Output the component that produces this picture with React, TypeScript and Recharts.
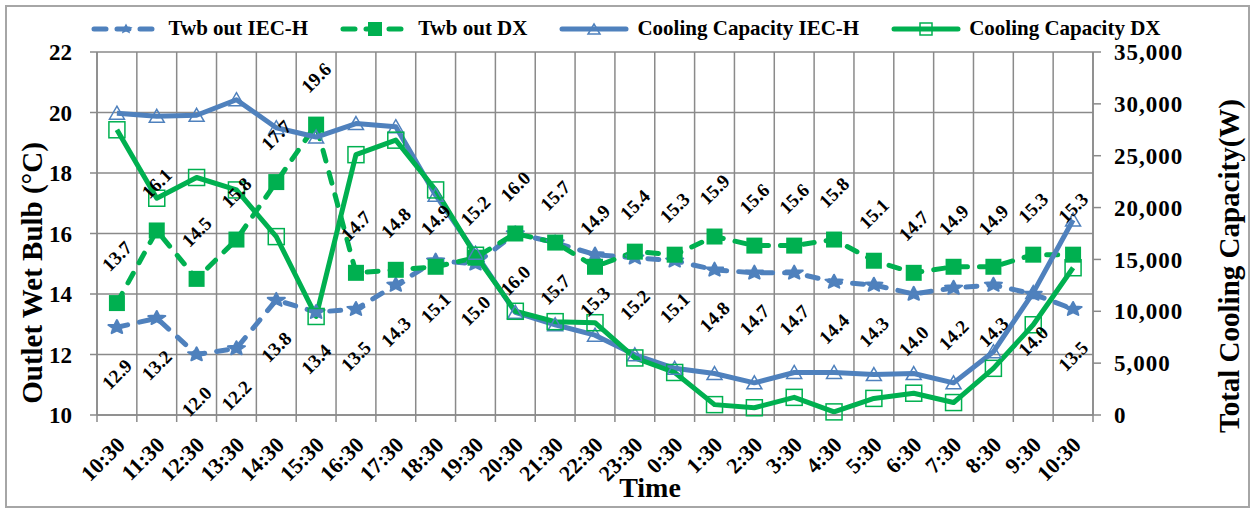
import React from 'react';
import { LineChart, Line, XAxis, YAxis, CartesianGrid, Legend, LabelList } from 'recharts';

const times = [
  '10:30', '11:30', '12:30', '13:30', '14:30', '15:30', '16:30', '17:30', '18:30', '19:30',
  '20:30', '21:30', '22:30', '23:30', '0:30', '1:30', '2:30', '3:30', '4:30', '5:30',
  '6:30', '7:30', '8:30', '9:30', '10:30',
];
const twbIec = [12.9, 13.2, 12.0, 12.2, 13.8, 13.4, 13.5, 14.3, 15.1, 15.0, 16.0, 15.7, 15.3, 15.2, 15.1, 14.8, 14.7, 14.7, 14.4, 14.3, 14.0, 14.2, 14.3, 14.0, 13.5];
const twbDx = [13.7, 16.1, 14.5, 15.8, 17.7, 19.6, 14.7, 14.8, 14.9, 15.2, 16.0, 15.7, 14.9, 15.4, 15.3, 15.9, 15.6, 15.6, 15.8, 15.1, 14.7, 14.9, 14.9, 15.3, 15.3];
const capIec = [29100, 28800, 28900, 30400, 27700, 26800, 28100, 27800, 21200, 15600, 9900, 8700, 7700, 5800, 4500, 4000, 3100, 4100, 4100, 3900, 4000, 3100, 6100, 11800, 18800];
const capDx = [27500, 20900, 22900, 21700, 17200, 9500, 25100, 26500, 21700, 15400, 10000, 9000, 8900, 5500, 4100, 1000, 700, 1700, 300, 1600, 2100, 1200, 4500, 8700, 14200];
const leftTicks = [10, 12, 14, 16, 18, 20, 22];
const rightTicks = [0, 5000, 10000, 15000, 20000, 25000, 30000, 35000];

const data = times.map((time, i) => ({
  time,
  twbIec: twbIec[i],
  twbDx: twbDx[i],
  capIec: capIec[i],
  capDx: capDx[i],
}));

const BLUE = '#4f81bd';
const GREEN = '#00b050';
const GRID = '#8a8a8a';
const FONT = '"Liberation Serif", "Times New Roman", serif';
const W = 1251;
const H = 508;
const PLOT_W = W - 97 - 158;
const BAND = PLOT_W / times.length;
const DASH = '11 12';

const starPoints = (cx: number, cy: number, r: number) => {
  const pts: string[] = [];
  for (let i = 0; i < 10; i++) {
    const rr = i % 2 === 0 ? r : r * 0.45;
    const a = -Math.PI / 2 + (i * Math.PI) / 5;
    pts.push(`${cx + rr * Math.cos(a)},${cy + rr * Math.sin(a) * 0.8}`);
  }
  return pts.join(' ');
};

const StarDot = (props: any) => {
  const { cx, cy } = props;
  if (cx == null || cy == null) return null;
  return <polygon points={starPoints(cx, cy, 9)} fill={BLUE} stroke={BLUE} strokeWidth={2} strokeLinejoin="round" />;
};

const SquareDot = (props: any) => {
  const { cx, cy } = props;
  if (cx == null || cy == null) return null;
  return <rect x={cx - 8} y={cy - 8} width={16} height={16} fill={GREEN} />;
};

const TriDot = (props: any) => {
  const { cx, cy } = props;
  if (cx == null || cy == null) return null;
  return (
    <polygon
      points={`${cx},${cy - 7} ${cx + 7.5},${cy + 6} ${cx - 7.5},${cy + 6}`}
      fill="none"
      stroke={BLUE}
      strokeWidth={1.5}
    />
  );
};

const OpenSquareDot = (props: any) => {
  const { cx, cy } = props;
  if (cx == null || cy == null) return null;
  return <rect x={cx - 8} y={cy - 8} width={16} height={16} fill="none" stroke={GREEN} strokeWidth={1.5} />;
};

// rotated value labels, above or below the point
const makeLabel = (dy: number) => (props: any) => {
  const { x, y, value } = props;
  if (x == null || y == null) return null;
  const cx = x;
  const cy = y + dy;
  return (
    <text
      x={cx}
      y={cy}
      transform={`rotate(-45 ${cx} ${cy})`}
      textAnchor="middle"
      dominantBaseline="central"
      fontFamily={FONT}
      fontWeight="bold"
      fontSize={19}
      fill="#000"
    >
      {Number(value).toFixed(1)}
    </text>
  );
};

const TimeTick = (props: any) => {
  const { x, y, payload, index } = props;
  const half = BAND / 2;
  const ax = x + 4;
  const ay = y + 26;
  return (
    <g>
      <line x1={x - half} y1={y} x2={x - half} y2={y + 7} stroke={GRID} strokeWidth={1.5} />
      {index === times.length - 1 && (
        <line x1={x + half} y1={y} x2={x + half} y2={y + 7} stroke={GRID} strokeWidth={1.5} />
      )}
      <text
        x={ax}
        y={ay}
        transform={`rotate(-45 ${ax} ${ay})`}
        textAnchor="end"
        dominantBaseline="central"
        fontFamily={FONT}
        fontWeight="bold"
        fontSize={22}
        fill="#000"
      >
        {payload.value}
      </text>
    </g>
  );
};

const legendItems = [
  { name: 'Twb out IEC-H', color: BLUE, dashed: true, marker: 'star' },
  { name: 'Twb out DX', color: GREEN, dashed: true, marker: 'square' },
  { name: 'Cooling Capacity IEC-H', color: BLUE, dashed: false, marker: 'tri' },
  { name: 'Cooling Capacity DX', color: GREEN, dashed: false, marker: 'osquare' },
];

const LegendIcon = ({ item }: { item: typeof legendItems[number] }) => {
  const w = 70;
  const cy = 10;
  const cx = w / 2;
  return (
    <svg width={w} height={20}>
      <line
        x1={3}
        y1={cy}
        x2={w - 3}
        y2={cy}
        stroke={item.color}
        strokeWidth={5}
        strokeLinecap="round"
        strokeDasharray={item.dashed ? '12 11' : undefined}
      />
      {item.marker === 'star' && <polygon points={starPoints(cx, cy, 7)} fill={BLUE} />}
      {item.marker === 'square' && <rect x={cx - 7} y={cy - 7} width={14} height={14} fill={GREEN} />}
      {item.marker === 'tri' && (
        <polygon points={`${cx},${cy - 5} ${cx + 6},${cy + 5} ${cx - 6},${cy + 5}`} fill="none" stroke={BLUE} strokeWidth={1.5} />
      )}
      {item.marker === 'osquare' && (
        <rect x={cx - 6} y={cy - 6} width={12} height={12} fill="none" stroke={GREEN} strokeWidth={1.5} />
      )}
    </svg>
  );
};

const CustomLegend = () => (
  <div style={{ display: 'flex', justifyContent: 'center', alignItems: 'center', gap: 32 }}>
    {legendItems.map((item) => (
      <div key={item.name} style={{ display: 'flex', alignItems: 'center' }}>
        <LegendIcon item={item} />
        <span style={{ marginLeft: 8, fontFamily: FONT, fontWeight: 'bold', fontSize: 21, color: '#000' }}>
          {item.name}
        </span>
      </div>
    ))}
  </div>
);

export default function App() {
  return (
    <div style={{ position: 'absolute', left: 0, top: 0, width: W, height: H, background: '#fff' }}>
      <LineChart width={W} height={H} data={data} margin={{ top: 52, right: 0, bottom: 0, left: 0 }}>
        <CartesianGrid
          yAxisId="left"
          stroke={GRID}
          strokeWidth={1.5}
          verticalCoordinatesGenerator={({ offset }: any) =>
            Array.from({ length: times.length + 1 }, (_, i) => offset.left + (i * offset.width) / times.length)
          }
        />
        <XAxis
          dataKey="time"
          height={93}
          padding={{ left: BAND / 2, right: BAND / 2 }}
          tickLine={false}
          tickSize={0}
          tickMargin={0}
          interval={0}
          axisLine={{ stroke: GRID, strokeWidth: 1.5 }}
          tick={<TimeTick />}
        />
        <YAxis
          yAxisId="left"
          width={97}
          domain={[10, 22]}
          ticks={leftTicks}
          interval={0}
          tickSize={7}
          tickMargin={18}
          axisLine={{ stroke: GRID, strokeWidth: 1.5 }}
          tickLine={{ stroke: GRID, strokeWidth: 1.5 }}
          tick={{ fontFamily: FONT, fontWeight: 'bold', fontSize: 23, fill: '#000' }}
        />
        <YAxis
          yAxisId="right"
          orientation="right"
          width={158}
          domain={[0, 35000]}
          ticks={rightTicks}
          interval={0}
          tickSize={8}
          tickMargin={13}
          axisLine={{ stroke: GRID, strokeWidth: 1.5 }}
          tickLine={{ stroke: GRID, strokeWidth: 1.5 }}
          tick={{ fontFamily: FONT, fontWeight: 'bold', fontSize: 23, fill: '#000', letterSpacing: 1 }}
          tickFormatter={(v: number) => v.toLocaleString('en-US')}
        />
        <Legend
          verticalAlign="middle"
          align="center"
          layout="horizontal"
          content={<CustomLegend />}
          wrapperStyle={{ top: 16, left: 0, width: W }}
        />
        <Line
          yAxisId="left"
          dataKey="twbIec"
          stroke={BLUE}
          strokeWidth={5}
          strokeDasharray={DASH}
          strokeLinecap="round"
          dot={<StarDot />}
          activeDot={false}
          isAnimationActive={false}
        />
        <Line
          yAxisId="left"
          dataKey="twbDx"
          stroke={GREEN}
          strokeWidth={5}
          strokeDasharray={DASH}
          strokeLinecap="round"
          dot={<SquareDot />}
          activeDot={false}
          isAnimationActive={false}
        />
        <Line
          yAxisId="right"
          dataKey="capIec"
          stroke={BLUE}
          strokeWidth={5}
          strokeLinejoin="round"
          dot={<TriDot />}
          activeDot={false}
          isAnimationActive={false}
        />
        <Line
          yAxisId="right"
          dataKey="capDx"
          stroke={GREEN}
          strokeWidth={5}
          strokeLinejoin="round"
          dot={<OpenSquareDot />}
          activeDot={false}
          isAnimationActive={false}
        />
        {/* label layers drawn last so the numbers sit on top of the lines */}
        <Line yAxisId="left" dataKey="twbIec" stroke="none" dot={false} activeDot={false} legendType="none" isAnimationActive={false}>
          <LabelList dataKey="twbIec" content={makeLabel(47)} />
        </Line>
        <Line yAxisId="left" dataKey="twbDx" stroke="none" dot={false} activeDot={false} legendType="none" isAnimationActive={false}>
          <LabelList dataKey="twbDx" content={makeLabel(-47)} />
        </Line>
      </LineChart>
      <svg width={W} height={H} style={{ position: 'absolute', left: 0, top: 0, pointerEvents: 'none' }}>
        <text
          x={32}
          y={273}
          transform="rotate(-90 32 273)"
          textAnchor="middle"
          dominantBaseline="central"
          fontFamily={FONT}
          fontWeight="bold"
          fontSize={29}
          fill="#000"
        >
          Outlet Wet Bulb (°C)
        </text>
        <text
          x={1229}
          y={266}
          transform="rotate(-90 1229 266)"
          textAnchor="middle"
          dominantBaseline="central"
          fontFamily={FONT}
          fontWeight="bold"
          fontSize={29}
          fill="#000"
        >
          Total Cooling Capacity(W)
        </text>
        <text x={650} y={497} textAnchor="middle" fontFamily={FONT} fontWeight="bold" fontSize={28} fill="#000">
          Time
        </text>
        <rect x={6} y={6} width={1243} height={501} fill="none" stroke="#a6a6a6" strokeWidth={2} />
      </svg>
    </div>
  );
}
